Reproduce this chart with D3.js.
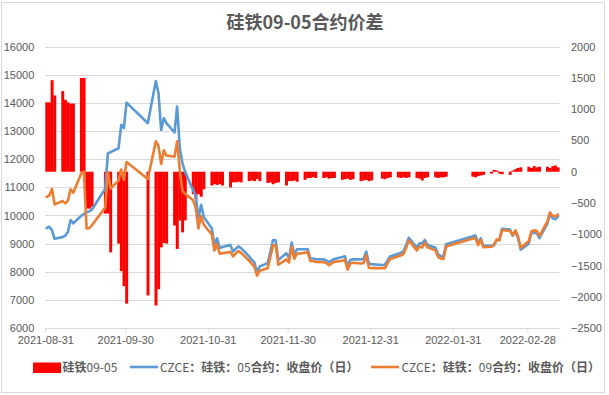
<!DOCTYPE html>
<html>
<head>
<meta charset="utf-8">
<script src="https://cdn.jsdelivr.net/npm/d3@7"></script>
<style>
  body { margin: 0; background: #fff; }
  svg { display: block; font-family: "Liberation Sans", Arial, sans-serif; }
</style>
</head>
<body>
<svg id="chart" width="609" height="395"></svg>
<script>
// trading days
var dates = [
  "2021-08-31",
  "2021-09-01","2021-09-02","2021-09-03","2021-09-06","2021-09-07","2021-09-08","2021-09-09","2021-09-10",
  "2021-09-13","2021-09-14","2021-09-15","2021-09-16","2021-09-17","2021-09-22","2021-09-23","2021-09-24",
  "2021-09-27","2021-09-28","2021-09-29","2021-09-30",
  "2021-10-08","2021-10-11","2021-10-12","2021-10-13","2021-10-14","2021-10-15","2021-10-18","2021-10-19",
  "2021-10-20","2021-10-21","2021-10-22","2021-10-25","2021-10-26","2021-10-27","2021-10-28","2021-10-29",
  "2021-11-01","2021-11-02","2021-11-03","2021-11-04","2021-11-05","2021-11-08","2021-11-09","2021-11-10",
  "2021-11-11","2021-11-12","2021-11-15","2021-11-16","2021-11-17","2021-11-18","2021-11-19","2021-11-22",
  "2021-11-23","2021-11-24","2021-11-25","2021-11-26","2021-11-29","2021-11-30",
  "2021-12-01","2021-12-02","2021-12-03","2021-12-06","2021-12-07","2021-12-08","2021-12-09","2021-12-10",
  "2021-12-13","2021-12-14","2021-12-15","2021-12-16","2021-12-17","2021-12-20","2021-12-21","2021-12-22",
  "2021-12-23","2021-12-24","2021-12-27","2021-12-28","2021-12-29","2021-12-30","2021-12-31",
  "2022-01-04","2022-01-05","2022-01-06","2022-01-07","2022-01-10","2022-01-11","2022-01-12","2022-01-13",
  "2022-01-14","2022-01-17","2022-01-18","2022-01-19","2022-01-20","2022-01-21","2022-01-24","2022-01-25",
  "2022-01-26","2022-01-27","2022-01-28",
  "2022-02-07","2022-02-08","2022-02-09","2022-02-10","2022-02-11","2022-02-14","2022-02-15","2022-02-16",
  "2022-02-17","2022-02-18","2022-02-21","2022-02-22","2022-02-23","2022-02-24","2022-02-25","2022-02-28",
  "2022-03-01","2022-03-02","2022-03-03","2022-03-04","2022-03-07","2022-03-08","2022-03-09","2022-03-10",
  "2022-03-11"
];

// CZCE 05 close (left axis)
var close05 = [
  9550,
  9600,9480,9170,9230,9280,9420,9840,9720,
  9990,10050,10130,10140,10210,10950,12210,12250,
  12390,13220,13100,14010,
  13280,14780,14350,13040,13460,13280,12950,13870,
  12400,11850,11550,10900,10700,9900,10380,9950,
  9550,8955,9190,8840,8880,8955,8720,8820,
  8900,8840,8550,8430,8330,7980,8185,8305,
  8700,9130,9120,8420,8660,8480,
  9040,8600,8800,8800,8810,8480,8470,8450,
  8440,8400,8340,8400,8450,8520,8550,8180,
  8420,8440,8440,8450,8720,8290,8270,
  8240,8250,8400,8540,8640,8680,8720,8950,
  9210,8860,9010,9000,9130,8960,8850,8620,
  8560,8540,8980,
  9260,9290,9015,9190,8920,8920,8940,9130,
  9140,9525,9500,9280,9430,9200,8780,9000,
  9370,9380,9390,9190,9700,10050,9900,9870,
  9960
];

// CZCE 09 close (left axis)
var close09 = [
  10660,
  10710,10945,10390,10520,10430,10530,10930,10810,
  11490,11550,9540,9550,9650,10280,11540,10960,
  11240,11630,11270,11900,
  11300,12640,12470,11830,12320,12130,12090,12635,
  11620,10880,10770,10540,10260,9540,9980,9670,
  9330,8755,8980,8640,8660,8705,8550,8650,
  8740,8670,8400,8290,8180,7860,8035,8125,
  8530,8930,8940,8250,8440,8330,
  8890,8460,8640,8670,8710,8380,8380,8350,
  8340,8310,8230,8300,8350,8390,8430,8070,
  8290,8320,8290,8310,8590,8140,8130,
  8130,8130,8300,8450,8550,8580,8630,8850,
  9120,8760,8900,8860,9030,8870,8760,8520,
  8470,8450,8900,
  9180,9200,8945,9130,8870,8890,8970,9150,
  9110,9485,9450,9300,9470,9260,8850,9080,
  9430,9470,9460,9270,9780,10110,9990,9970,
  10030
];

// 09-05 spread (right axis)
var spread = [
  1110,
  1110,1465,1220,1290,1150,1110,1090,1090,
  1500,1500,-590,-590,-560,-670,-670,-1290,
  -1150,-1590,-1830,-2110,
  -1980,-2140,-1880,-1210,-1140,-1150,-860,-1235,
  -780,-970,-780,-360,-440,-360,-400,-280,
  -220,-200,-210,-200,-220,-250,-170,-170,
  -160,-170,-150,-140,-150,-120,-150,-180,
  -170,-200,-180,-170,-220,-150,
  -150,-140,-160,-130,-100,-100,-90,-100,
  -100,-90,-110,-100,-100,-130,-120,-110,
  -130,-120,-150,-140,-130,-150,-140,
  -110,-120,-100,-90,-90,-100,-90,-100,
  -90,-100,-110,-140,-100,-90,-90,-100,
  -90,-90,-80,
  -80,-90,-70,-60,-50,-30,30,20,
  -30,-40,-50,20,40,60,70,80,
  60,90,70,80,80,60,90,100,
  70
];

var xTicks = ["2021-08-31","2021-09-30","2021-10-31","2021-11-30","2021-12-31","2022-01-31","2022-02-28"];
var leftTicks = [6000,7000,8000,9000,10000,11000,12000,13000,14000,15000,16000];
var rightTicks = [-2500,-2000,-1500,-1000,-500,0,500,1000,1500,2000];

var title = "硅铁09-05合约价差";
var seriesNames = ["硅铁09-05", "CZCE：硅铁：05合约：收盘价（日）", "CZCE：硅铁：09合约：收盘价（日）"];
var colors = ["#FF0000", "#5B9BD5", "#ED7D31"];

var parse = d3.utcParse("%Y-%m-%d");
var DAY = 864e5;
var rows = dates.map(function(d, i) {
  return { date: parse(d), c05: close05[i], c09: close09[i], spread: spread[i] };
});

var svg = d3.select("#chart");
var plotLeft = 45.3, plotRight = 559.3, plotTop = 46.7, plotBottom = 328;

var x = d3.scaleUtc().domain([parse("2021-08-31"), parse("2022-03-12")]).range([plotLeft, plotRight]);
var yL = d3.scaleLinear().domain([6000, 16000]).range([plotBottom, plotTop]);
var yR = d3.scaleLinear().domain([-2500, 2000]).range([plotBottom, plotTop]);
var half = (x(new Date(parse("2021-08-31").getTime() + DAY)) - plotLeft) / 2;

svg.append("rect").attr("width", 609).attr("height", 395).attr("fill", "#fff");
svg.append("rect")
  .attr("x", 1.5).attr("y", 2.5).attr("width", 603).attr("height", 390)
  .attr("fill", "none").attr("stroke", "#D9D9D9");

// title
svg.append("text")
  .attr("x", 305).attr("y", 29)
  .attr("text-anchor", "middle")
  .style("font-family", "'Noto Sans CJK SC', sans-serif")
  .style("font-size", "18px").style("font-weight", "bold")
  .attr("fill", "#595959")
  .text(title);

// gridlines
svg.append("g").selectAll("line").data(leftTicks).join("line")
  .attr("x1", plotLeft).attr("x2", plotRight)
  .attr("y1", function(d) { return Math.round(yL(d)) + 0.5; })
  .attr("y2", function(d) { return Math.round(yL(d)) + 0.5; })
  .attr("stroke", "#D9D9D9").attr("stroke-width", 1);

// axes
var axL = svg.append("g").attr("transform", "translate(" + plotLeft + ",0)")
  .call(d3.axisLeft(yL).tickValues(leftTicks).tickSize(0).tickPadding(11).tickFormat(d3.format("d")));
var axR = svg.append("g").attr("transform", "translate(" + plotRight + ",0)")
  .call(d3.axisRight(yR).tickValues(rightTicks).tickSize(0).tickPadding(11.7).tickFormat(d3.format("d")));
var axB = svg.append("g").attr("transform", "translate(0," + (Math.round(plotBottom) + 0.5) + ")")
  .call(d3.axisBottom(x).tickValues(xTicks.map(parse)).tickSize(4).tickSizeOuter(0).tickPadding(4)
    .tickFormat(d3.utcFormat("%Y-%m-%d")));
[axL, axR, axB].forEach(function(a) {
  a.select(".domain").remove();
  a.selectAll("text").attr("fill", "#595959")
    .style("font-size", "11px").style("font-family", "'Liberation Sans', Arial, sans-serif");
  a.selectAll("line").attr("stroke", "#D9D9D9");
});

// spread bars
svg.append("g").selectAll("rect").data(rows).join("rect")
  .attr("x", function(d) { return x(d.date); })
  .attr("width", function(d) { return x(new Date(d.date.getTime() + DAY)) - x(d.date) + 0.3; })
  .attr("y", function(d) { return Math.min(yR(d.spread), yR(0)); })
  .attr("height", function(d) { return Math.abs(yR(d.spread) - yR(0)); })
  .attr("fill", colors[0]);

// price lines
function drawLine(key, color) {
  var line = d3.line()
    .x(function(d) { return x(d.date) + half; })
    .y(function(d) { return yL(d[key]); });
  svg.append("path").datum(rows)
    .attr("d", line)
    .attr("fill", "none").attr("stroke", color).attr("stroke-width", 2.6)
    .attr("stroke-linejoin", "round").attr("stroke-linecap", "round");
}
drawLine("c05", colors[1]);
drawLine("c09", colors[2]);

// legend
function legendText(xPos, str) {
  var t = svg.append("text").attr("x", xPos).attr("y", 371.5)
    .attr("fill", "#595959")
    .style("font-family", "'Noto Sans CJK SC', sans-serif").style("font-size", "12px");
  var runs = str.match(/[\x00-\x7F]+|[^\x00-\x7F]+/g);
  runs.forEach(function(r) {
    t.append("tspan").style("font-weight", /[^\x00-\x7F]/.test(r) ? "bold" : "normal").text(r);
  });
}
svg.append("rect").attr("x", 33).attr("y", 362.5).attr("width", 28).attr("height", 10.5).attr("fill", colors[0]);
legendText(62.5, seriesNames[0]);
svg.append("line").attr("x1", 130).attr("x2", 158).attr("y1", 367).attr("y2", 367)
  .attr("stroke", colors[1]).attr("stroke-width", 2.6);
legendText(160, seriesNames[1]);
svg.append("line").attr("x1", 371).attr("x2", 399).attr("y1", 367).attr("y2", 367)
  .attr("stroke", colors[2]).attr("stroke-width", 2.6);
legendText(401.5, seriesNames[2]);
</script>
</body>
</html>
